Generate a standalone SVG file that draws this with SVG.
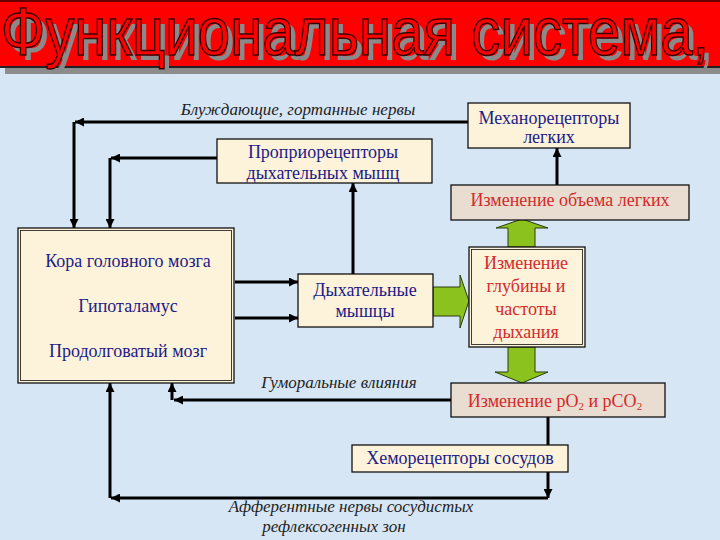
<svg xmlns="http://www.w3.org/2000/svg" width="720" height="540" viewBox="0 0 720 540">
<style>
.box{fill:#fdf2da;stroke:#111;stroke-width:1.3}
.gbox{fill:#e8ddd0;stroke:#111;stroke-width:1.3}
.bt{font-family:"Liberation Serif","DejaVu Serif",serif;font-size:18px;fill:#1c1c86;text-anchor:middle}
.rt{font-family:"Liberation Serif","DejaVu Serif",serif;font-size:18px;fill:#d42a2a;text-anchor:middle}
.lbl{font-family:"Liberation Serif","DejaVu Serif",serif;font-style:italic;font-size:17px;fill:#222;text-anchor:middle}
.ln{fill:none;stroke:#000;stroke-width:3}
.ga{fill:#8cc21e;stroke:#2a3a10;stroke-width:1}
.tt{font-family:"Liberation Sans",Arial,sans-serif;font-size:68px}
</style>
<defs>
<marker id="ah" viewBox="0 0 10 10" refX="10" refY="5" markerWidth="10" markerHeight="9" markerUnits="userSpaceOnUse" orient="auto">
<path d="M0,0 L10,5 L0,10 z" fill="#000"/>
</marker>
</defs>
<rect width="720" height="540" fill="#d6e6f5"/>
<g id="title">
<rect x="5" y="67" width="715" height="7" fill="#8c8c8c"/>
<rect x="0" y="0" width="720" height="68" fill="#ff0000"/>
<line x1="0" y1="67" x2="720" y2="67" stroke="#222" stroke-width="2"/>
<line x1="0" y1="1" x2="720" y2="1" stroke="#600" stroke-width="2"/>
<text class="tt" x="6" y="60" textLength="708" lengthAdjust="spacingAndGlyphs" fill="#8a8a8a">Функциональная система,</text>
<text class="tt" x="1" y="55" textLength="708" lengthAdjust="spacingAndGlyphs" fill="#ff0000" stroke="#3a0000" stroke-width="1.5">Функциональная система,</text>
</g>
<g id="connectors">
<path class="ln" d="M468,122 H75" marker-end="url(#ah)"/>
<path class="ln" d="M74,122 V228" marker-end="url(#ah)"/>
<path class="ln" d="M217,158 H111" marker-end="url(#ah)"/>
<path class="ln" d="M110,158 V228" marker-end="url(#ah)"/>
<path class="ln" d="M353,274 V183" marker-end="url(#ah)"/>
<path class="ln" d="M557,185 V148" marker-end="url(#ah)"/>
<path class="ln" d="M235,282 H298" marker-end="url(#ah)"/>
<path class="ln" d="M235,318 H298" marker-end="url(#ah)"/>
<path class="ln" d="M451,400 H174" marker-end="url(#ah)"/>
<path class="ln" d="M172,400 V383" marker-end="url(#ah)"/>
<path class="ln" d="M548,417 V445"/>
<path class="ln" d="M548,472 V498" marker-end="url(#ah)"/>
<path class="ln" d="M548,498 H111" marker-end="url(#ah)"/>
<path class="ln" d="M110,498 V383" marker-end="url(#ah)"/>
<path class="ga" d="M433,287 H460 V275 L469,301 L460,328 V316 H433 Z"/>
<path class="ga" d="M508,247 V228 H496 L522,219 L548,228 H535 V247 Z"/>
<path class="ga" d="M508,347 V372 H495 L522,383 L548,372 H535 V347 Z"/>
</g>
<g id="labels">
<text class="lbl" x="298" y="115">Блуждающие, гортанные нервы</text>
<text class="lbl" x="339" y="388">Гуморальные влияния</text>
<text class="lbl" x="351" y="512">Афферентные нервы сосудистых</text>
<text class="lbl" x="334" y="532">рефлексогенных зон</text>
</g>
<g id="mechano">
<rect class="box" x="468" y="103" width="162" height="45"/>
<text class="bt" x="549" y="124" font-size="17">Механорецепторы</text>
<text class="bt" x="549" y="143" font-size="17">легких</text>
</g>
<g id="proprio">
<rect class="box" x="217" y="139" width="215" height="44"/>
<text class="bt" x="323" y="158">Проприорецепторы</text>
<text class="bt" x="323" y="179">дыхательных мышц</text>
</g>
<g id="volume">
<rect class="gbox" x="451" y="185" width="238" height="35"/>
<text class="rt" x="570" y="206">Изменение объема легких</text>
</g>
<g id="brain">
<rect class="box" x="18" y="228" width="216" height="155" stroke-width="1.5"/>
<rect x="20.5" y="230.5" width="211" height="150" fill="none" stroke="#111" stroke-width="0.8"/>
<text class="bt" x="128" y="267">Кора головного мозга</text>
<text class="bt" x="128" y="312">Гипоталамус</text>
<text class="bt" x="128" y="357">Продолговатый мозг</text>
</g>
<g id="muscles">
<rect class="box" x="298" y="274" width="135" height="53"/>
<text class="bt" x="365" y="296">Дыхательные</text>
<text class="bt" x="365" y="317">мышцы</text>
</g>
<g id="depth">
<rect class="box" x="469" y="247" width="116" height="100" stroke-width="1.5"/>
<rect x="471.5" y="249.5" width="111" height="95" fill="none" stroke="#111" stroke-width="0.8"/>
<text class="rt" x="526" y="269">Изменение</text>
<text class="rt" x="526" y="292">глубины и</text>
<text class="rt" x="526" y="315">частоты</text>
<text class="rt" x="526" y="338">дыхания</text>
</g>
<g id="gases">
<rect class="gbox" x="451" y="383" width="214" height="34"/>
<text class="rt" x="555" y="407">Изменение pO<tspan font-size="11" dy="3">2</tspan><tspan dy="-3"> и pCO</tspan><tspan font-size="11" dy="3">2</tspan></text>
</g>
<g id="chemo">
<rect class="box" x="352" y="445" width="216" height="27" fill="#fff7dc"/>
<text class="bt" x="460" y="464">Хеморецепторы сосудов</text>
</g>
</svg>
